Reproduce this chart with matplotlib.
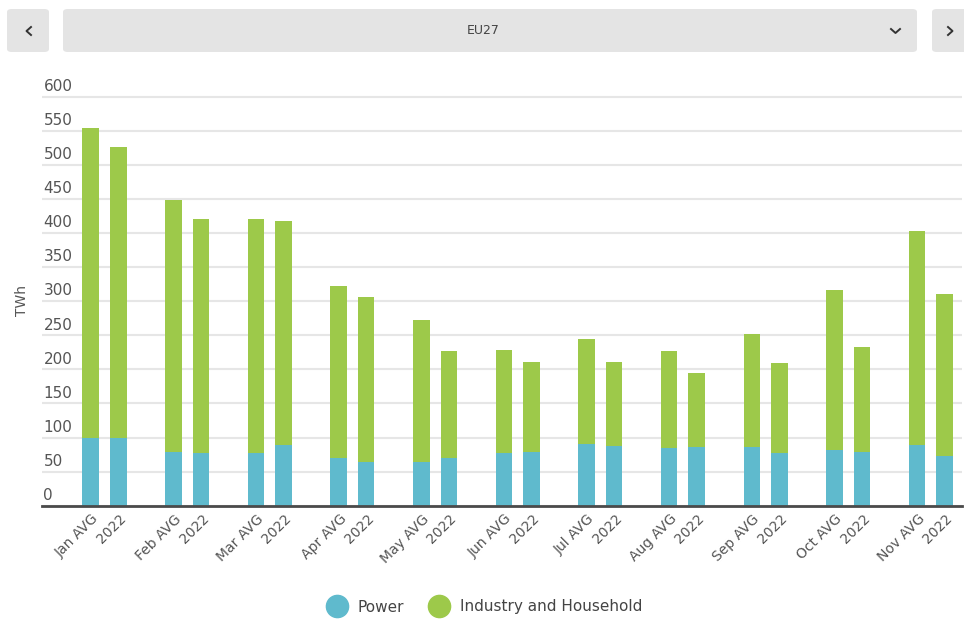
import matplotlib.pyplot as plt
from matplotlib.patches import FancyBboxPatch
from matplotlib.lines import Line2D
import numpy as np

months = ['Jan', 'Feb', 'Mar', 'Apr', 'May', 'Jun', 'Jul', 'Aug', 'Sep', 'Oct', 'Nov']
power_avg = [100, 79, 77, 70, 64, 77, 91, 84, 86, 81, 89]
power_2022 = [100, 77, 89, 64, 70, 79, 88, 86, 77, 79, 73]
industry_avg = [454, 369, 344, 252, 208, 152, 153, 143, 166, 235, 314]
industry_2022 = [426, 344, 328, 242, 157, 132, 123, 109, 132, 154, 237]
yticks = [0, 50, 100, 150, 200, 250, 300, 350, 400, 450, 500, 550, 600]

blue = '#5fbacd'
green = '#9dc94a'
txt = '#555555'

fig = plt.figure(figsize=(9.64, 6.19), dpi=100)
# axis top a little above the 600 line so the gridline isn't clipped
ax = fig.add_axes([42 / 964, 113.3 / 619, 920 / 964, 411 / 619])

x_avg = np.arange(len(months)) * 3
x_22 = x_avg + 1
w = 0.6

ax.bar(x_avg, power_avg, w, color=blue, zorder=3)
ax.bar(x_22, power_2022, w, color=blue, zorder=3)
ax.bar(x_avg, industry_avg, w, bottom=power_avg, color=green, zorder=3)
ax.bar(x_22, industry_2022, w, bottom=power_2022, color=green, zorder=3)

ax.set_xlim(-1.77, 31.63)
ax.set_ylim(0, 600 * 411 / 409)
for s in ['top', 'right', 'left']:
    ax.spines[s].set_visible(False)
ax.spines['bottom'].set_color('#4a4a4a')
ax.spines['bottom'].set_linewidth(2)
ax.spines['bottom'].set_zorder(4)

# gridlines with labels sitting above them
ax.set_yticks(yticks)
ax.set_yticklabels([])
ax.tick_params(axis='y', length=0)
ax.grid(axis='y', color='#e6e6e6', linewidth=1.5, zorder=0)
for v in yticks:
    ax.annotate(str(v), xy=(0, v), xycoords=('axes fraction', 'data'),
                xytext=(1, 2), textcoords='offset points',
                ha='left', va='bottom', fontsize=11, color=txt)

xpos = []
xlab = []
for i, m in enumerate(months):
    xpos += [x_avg[i], x_22[i]]
    xlab += [m + ' AVG', '2022']
ax.set_xticks(np.array(xpos) + 0.2)
ax.set_xticklabels(xlab, rotation=45, ha='right', va='center',
                   rotation_mode='anchor', fontsize=10, color=txt)
ax.tick_params(axis='x', length=0, pad=8)

fig.text(22 / 964, 1 - 300 / 619, 'TWh', rotation=90, ha='center', va='center',
         fontsize=10, color=txt)

# legend
handles = [Line2D([], [], marker='o', linestyle='', markersize=16, color=blue),
           Line2D([], [], marker='o', linestyle='', markersize=16, color=green)]
fig.legend(handles, ['Power', 'Industry and Household'], loc='center',
           bbox_to_anchor=(0.5, 1 - 607 / 619), ncol=2, frameon=False,
           fontsize=11, labelcolor='#444444', handletextpad=0.35, columnspacing=1.3)

# header bar
def fig_box(x0, y0, x1, y1):
    fig.patches.append(FancyBboxPatch((x0 / 964, 1 - y1 / 619), (x1 - x0) / 964, (y1 - y0) / 619,
                                      boxstyle='round,pad=0,rounding_size=0.005',
                                      transform=fig.transFigure, facecolor='#e4e4e4',
                                      edgecolor='none'))

fig_box(7, 9, 49, 52)
fig_box(63, 9, 917, 52)
fig_box(932, 9, 968, 52)
fig.text(483 / 964, 1 - 31 / 619, 'EU27', ha='center', va='center', fontsize=9, color='#444444')

def fig_line(xs, ys):
    fig.lines.append(Line2D([x / 964 for x in xs], [1 - y / 619 for y in ys],
                            transform=fig.transFigure, color='#333333', linewidth=1.4))

fig_line([31, 26.5, 31], [27, 31, 35])
fig_line([891, 895.5, 900], [29, 33, 29])
fig_line([948, 952.5, 948], [27, 31, 35])

fig.savefig('out.png', dpi=100)
